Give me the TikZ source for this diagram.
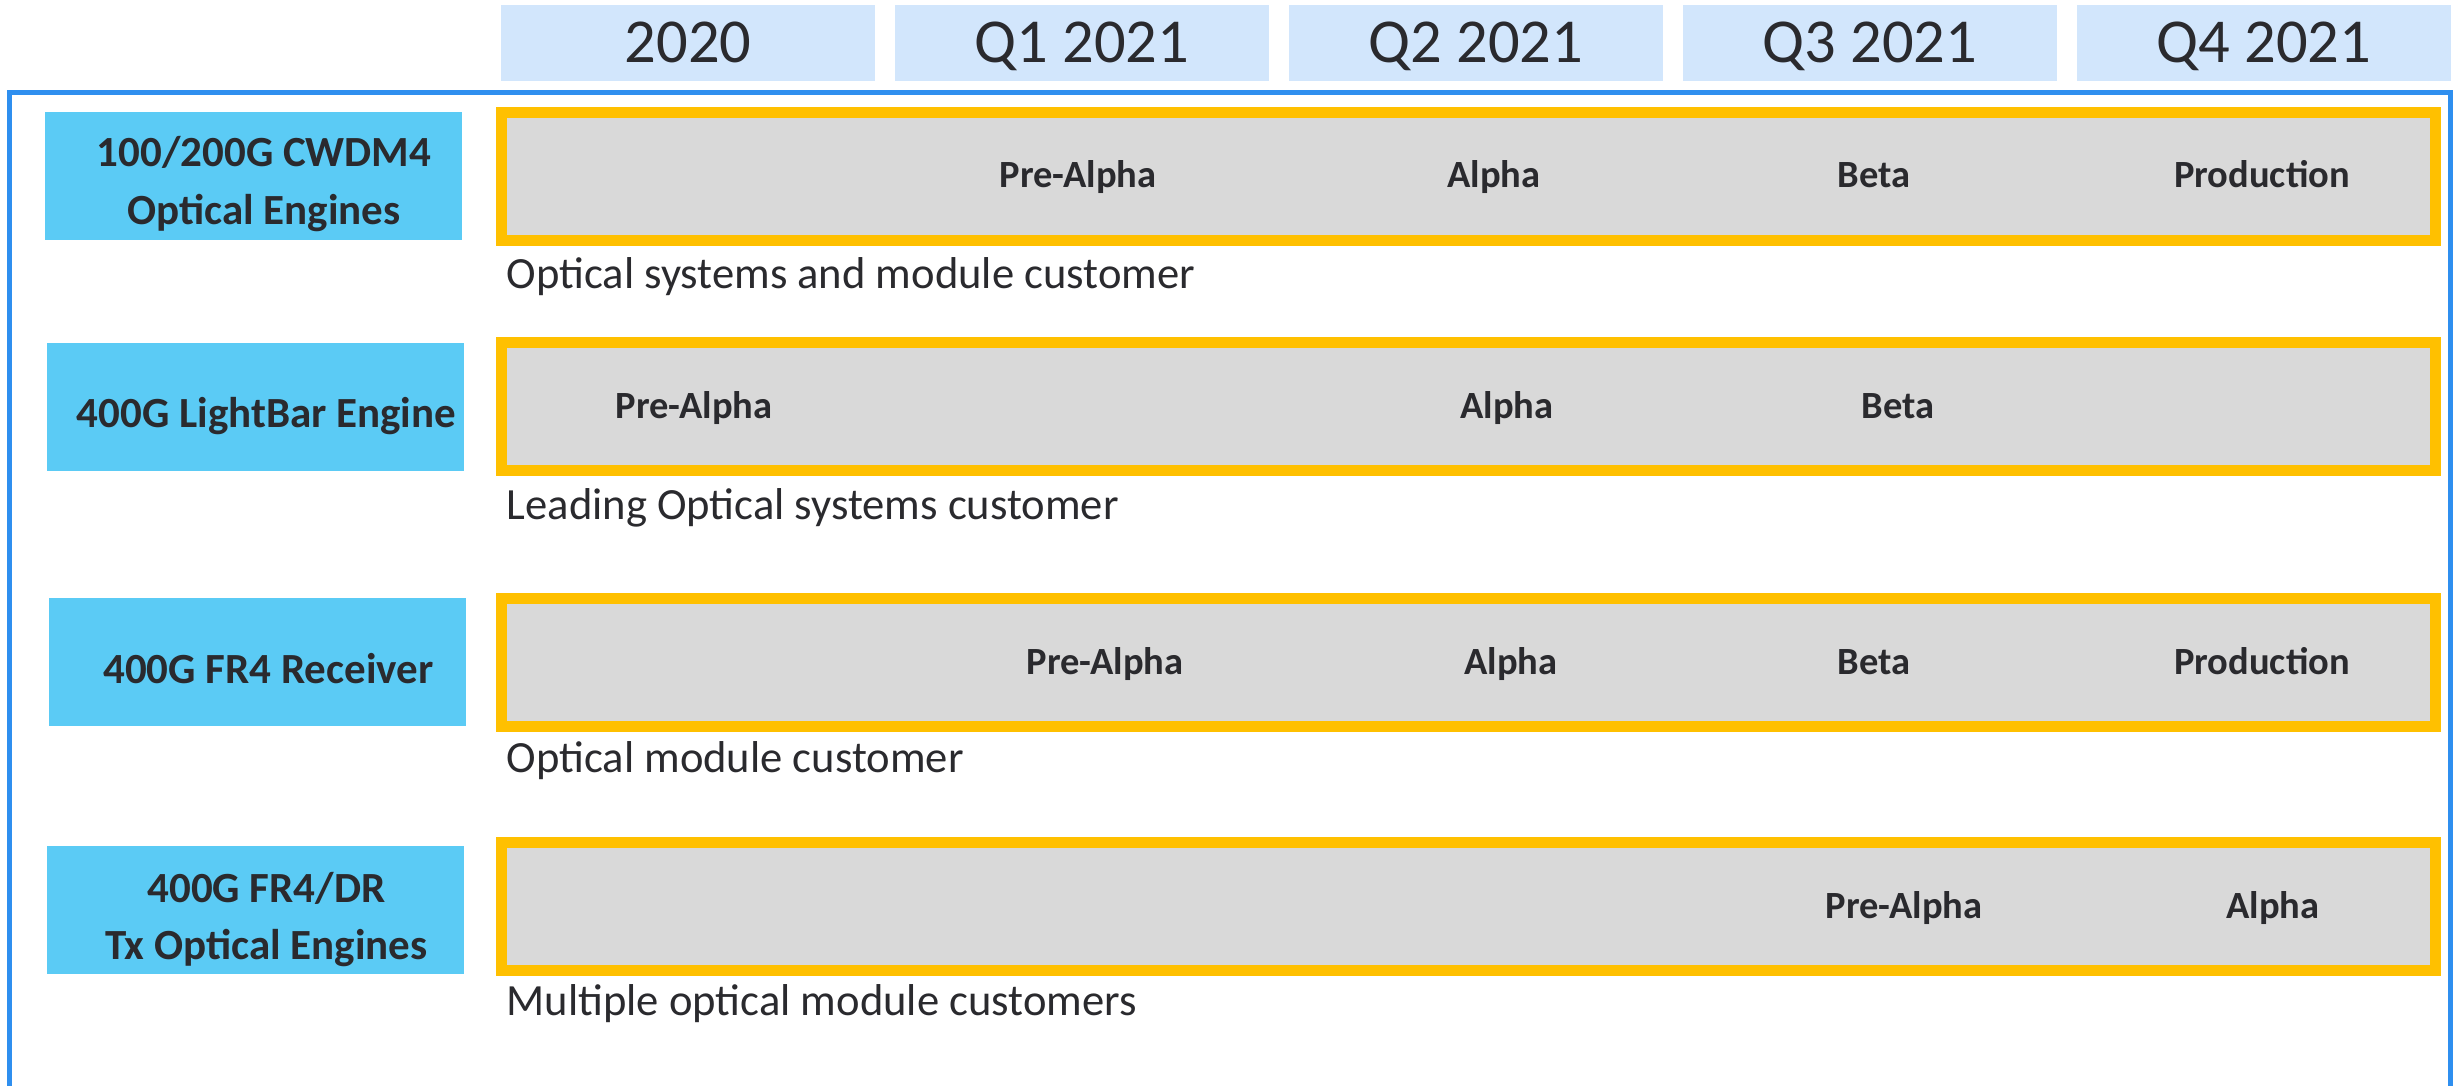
\documentclass[tikz,border=0pt]{standalone}
\usepackage{fontspec}
\setmainfont{Carlito}
\definecolor{hdrblue}{HTML}{D2E6FC}
\definecolor{cyanbox}{HTML}{5BCBF5}
\definecolor{barfill}{HTML}{D9D9D9}
\definecolor{baredge}{HTML}{FFC000}
\definecolor{frameblue}{HTML}{2F8FEF}
\definecolor{ink}{HTML}{2A2A2E}
\begin{document}
\begin{tikzpicture}[x=1pt,y=-1pt,
 hdr/.style={fill=hdrblue,minimum width=374pt,minimum height=76pt,inner sep=0pt},
 hdrtxt/.style={anchor=base,inner sep=0pt,text=ink,font=\fontsize{62.5}{62.5}\selectfont},
 prod/.style={fill=cyanbox,minimum width=417pt,minimum height=128pt,inner sep=0pt},
 prodtxt/.style={anchor=base,inner sep=0pt,text=ink,font=\fontsize{43}{43}\selectfont\bfseries},
 bar/.style={fill=barfill,draw=baredge,line width=11pt,minimum width=1934pt,minimum height=128pt,inner sep=0pt},
 stage/.style={anchor=base,inner sep=0pt,text=ink,font=\fontsize{38.5}{38.5}\selectfont\bfseries},
 cust/.style={anchor=base west,inner sep=0pt,text=ink,font=\fontsize{44.6}{44.6}\selectfont}]
\useasboundingbox (0,0) rectangle (2453,1086);
\fill[white] (0,0) rectangle (2453,1086);
% headers
\node[hdr] (h1) at (688,43) {};
\node[hdr] (h2) at (1082,43) {};
\node[hdr] (h3) at (1476,43) {};
\node[hdr] (h4) at (1870,43) {};
\node[hdr] (h5) at (2264,43) {};
\node[hdrtxt] (h1t) at (688,63) {2020};
\node[hdrtxt] (h2t) at (1082,63) {Q1 2021};
\node[hdrtxt] (h3t) at (1476,63) {Q2 2021};
\node[hdrtxt] (h4t) at (1870,63) {Q3 2021};
\node[hdrtxt] (h5t) at (2264,63) {Q4 2021};
% frame
\draw[frameblue,line width=5pt] (9.5,1086) -- (9.5,92.5) -- (2450,92.5) -- (2450,1086);
% product boxes
\node[prod] (p1) at (253,176) {};
\node[prod] (p2) at (255.5,407) {};
\node[prod] (p3) at (257.5,662) {};
\node[prod] (p4) at (255.5,910) {};
\node[prodtxt] (p1a) at (264,167) {100/200G CWDM4};
\node[prodtxt] (p1b) at (264,225) {Optical Engines};
\node[prodtxt] (p2a) at (266.5,427) {400G LightBar Engine};
\node[prodtxt] (p3a) at (268.5,683) {400G FR4 Receiver};
\node[prodtxt] (p4a) at (266.5,902) {400G FR4/DR};
\node[prodtxt] (p4b) at (266.5,959) {Tx Optical Engines};
% bars
\node[bar] (b1) at (1468.5,176.5) {};
\node[bar] (b2) at (1468.5,406.5) {};
\node[bar] (b3) at (1468.5,662) {};
\node[bar] (b4) at (1468.5,906.5) {};
% stages row 1
\node[stage] (s11) at (1078,188) {Pre-Alpha};
\node[stage] (s12) at (1494,188) {Alpha};
\node[stage] (s13) at (1874,188) {Beta};
\node[stage] (s14) at (2262,188) {Production};
% row 2
\node[stage] (s21) at (694,418) {Pre-Alpha};
\node[stage] (s22) at (1507,418) {Alpha};
\node[stage] (s23) at (1898,418) {Beta};
% row 3
\node[stage] (s31) at (1105,674) {Pre-Alpha};
\node[stage] (s32) at (1511,674) {Alpha};
\node[stage] (s33) at (1874,674) {Beta};
\node[stage] (s34) at (2262,674) {Production};
% row 4
\node[stage] (s41) at (1904,918) {Pre-Alpha};
\node[stage] (s42) at (2273,918) {Alpha};
% customers
\node[cust] (c1) at (506.5,288) {Optical systems and module customer};
\node[cust] (c2) at (506.5,519) {Leading Optical systems customer};
\node[cust] (c3) at (506.5,772) {Optical module customer};
\node[cust] (c4) at (506.5,1015) {Multiple optical module customers};
\end{tikzpicture}
\end{document}
